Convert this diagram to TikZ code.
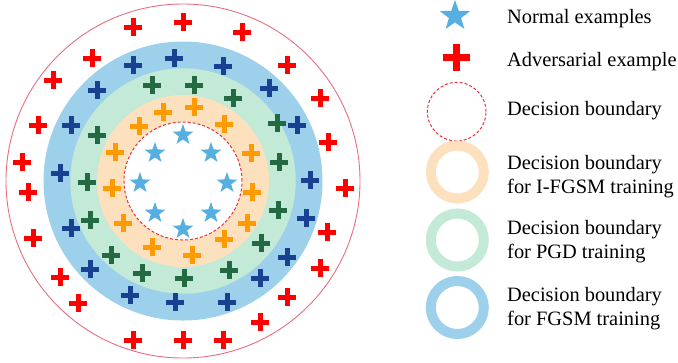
\documentclass[tikz,border=0pt]{standalone}
\usepackage{fontspec}
\setmainfont{Liberation Serif}
\usetikzlibrary{shapes.geometric}
\definecolor{ringblue}{RGB}{157,208,235}
\definecolor{ringgreen}{RGB}{194,234,214}
\definecolor{ringorange}{RGB}{253,225,190}
\definecolor{starblue}{RGB}{85,175,225}
\definecolor{crossred}{RGB}{255,0,0}
\definecolor{crossblue}{RGB}{25,65,145}
\definecolor{crossgreen}{RGB}{35,105,65}
\definecolor{crossorange}{RGB}{255,155,0}
\definecolor{outerline}{RGB}{230,110,130}
\definecolor{dashred}{RGB}{230,50,60}
\begin{document}
\begin{tikzpicture}[x=1bp,y=-1bp,
  plus/.pic={\fill (-9,-2.5) rectangle (9,2.5); \fill (-2.5,-9) rectangle (2.5,9);},
  starmark/.style={star, star points=5, star point ratio=2.5, fill=starblue, draw=none, inner sep=0pt, minimum size=22bp},
  disk/.style={circle, inner sep=0pt, draw=none},
  ring/.style={circle, inner sep=0pt, line width=10bp, minimum size=53bp, fill=none},
  dboundary/.style={circle, inner sep=0pt, draw=dashred, line width=1bp, dash pattern=on 3bp off 2bp},
  legtext/.style={font=\fontsize{20.4bp}{24bp}\selectfont, inner sep=0pt, align=left, text=black}
]
\useasboundingbox (0,0) rectangle (678,362);
% main circles
\node[disk, draw=outerline, line width=0.9bp, minimum size=354bp] (outer) at (183,181) {};
\node[disk, fill=ringblue, minimum size=279bp] (blue) at (183,181) {};
\node[disk, fill=ringgreen, minimum size=225.5bp] (green) at (183,181) {};
\node[disk, fill=ringorange, minimum size=172bp] (orange) at (183,181) {};
\node[dboundary, fill=white, minimum size=118bp] (inner) at (183,181) {};
% stars
\foreach \x/\y [count=\i] in {183/135,155/153,211/153,140/183,227/183,155/213,211/213,183/229}
  \node[starmark] (s\i) at (\x,\y) {};
% red crosses
\foreach \x/\y [count=\i] in {133/27,183/22,242/32,92/58,287/65,53/80,320/98,38/125,328/142,22/162,345/188,28/192,327/232,33/238,320/268,60/277,287/297,78/303,260/322,133/340,183/340,223/340}
  \pic[crossred] (r\i) at (\x,\y) {plus};
% dark blue crosses
\foreach \x/\y [count=\i] in {133/65,174/58,223/66,97/90,269/88,71/125,297/125,60/173,310/180,71/228,306/218,90/269,287/257,130/295,175/302,227/302,260/278}
  \pic[crossblue] (b\i) at (\x,\y) {plus};
% dark green crosses
\foreach \x/\y [count=\i] in {152/85,194/85,233/98,97/135,277/123,87/182,279/162,90/220,278/210,111/255,261/243,142/273,184/278,229/270}
  \pic[crossgreen] (g\i) at (\x,\y) {plus};
% orange crosses
\foreach \x/\y [count=\i] in {163/112,194/107,139/126,224/124,115/152,251/153,112/188,252/192,123/223,247/223,152/247,192/255,224/239}
  \pic[crossorange] (o\i) at (\x,\y) {plus};
% legend
\node[starmark, minimum size=32bp] (lstar) at (455,16) {};
\pic[crossred, scale=1.5] (lcross) at (456.5,57.5) {plus};
\node[dboundary, minimum size=58.6bp] (ldash) at (456.7,111.7) {};
\node[ring, draw=ringorange] (lorange) at (457.3,172) {};
\node[ring, draw=ringgreen] (lgreen) at (457.3,240) {};
\node[ring, draw=ringblue] (lblue) at (457.3,307.5) {};
\node[legtext, anchor=base west] (t1) at (507,23) {Normal examples};
\node[legtext, anchor=base west] (t2) at (507,66.5) {Adversarial example};
\node[legtext, anchor=base west] (t3) at (507,115) {Decision boundary};
\node[legtext, anchor=west] (t4) at (507,176.9) {Decision boundary\\for I-FGSM training};
\node[legtext, anchor=west] (t5) at (507,241.9) {Decision boundary\\for PGD training};
\node[legtext, anchor=west] (t6) at (507,308.9) {Decision boundary\\for FGSM training};
\end{tikzpicture}
\end{document}
